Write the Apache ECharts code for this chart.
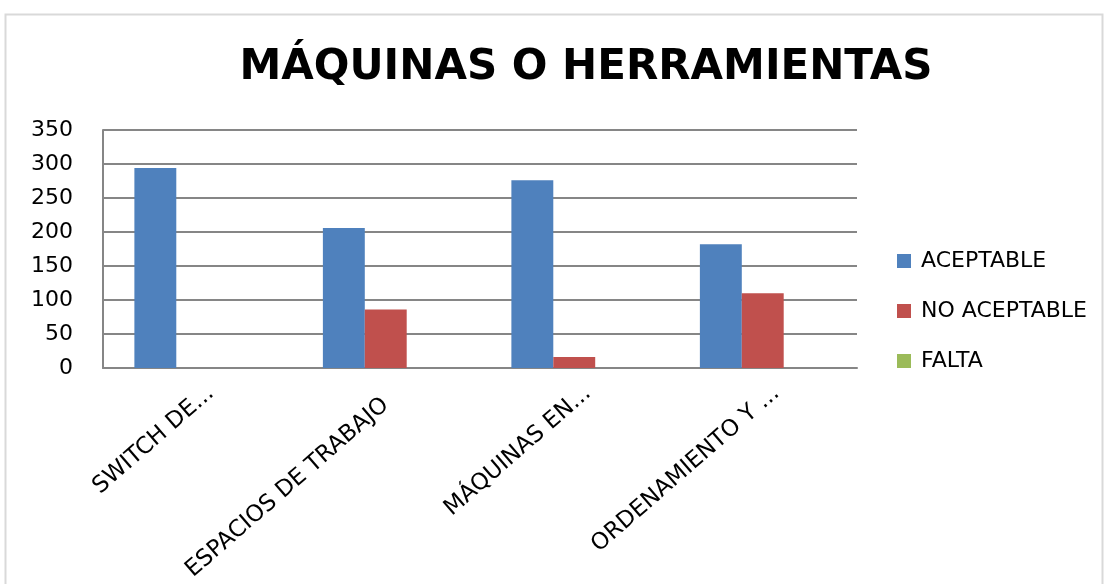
<!DOCTYPE html>
<html>
<head>
<meta charset="utf-8">
<script src="https://cdn.jsdelivr.net/npm/echarts@6/dist/echarts.min.js"></script>
<style>
html, body { margin: 0; padding: 0; background: #fff; }
#myChart { width: 1107px; height: 584px; }
</style>
</head>
<body>
<div id="myChart"></div>
<script>
// datos
var categories = ["SWITCH DE...", "ESPACIOS DE TRABAJO", "MÁQUINAS EN...", "ORDENAMIENTO Y ..."];
var aceptable = [294, 206, 276, 182];
var noAceptable = [0, 86, 16, 110];
var falta = [0, 0, 0, 0];
var seriesNames = ["ACEPTABLE", "NO ACEPTABLE", "FALTA"];
var colors = ["#4F81BD", "#C0504D", "#9BBB59"];

var myChart = echarts.init(document.getElementById("myChart"));
var font = "'DejaVu Sans', 'Open Sans', sans-serif";

// las etiquetas recortadas ("...") quedan algo desplazadas hacia la derecha en el original
var xData = categories.map(function (c) {
  if (c.indexOf("...") >= 0) {
    return { value: c, textStyle: { padding: [0, -18, 0, 0] } };
  }
  return c;
});

var option = {
  color: colors,
  animation: false,
  title: {
    text: "MÁQUINAS O HERRAMIENTAS",
    left: 581,
    top: 42,
    textAlign: "center",
    textStyle: { fontFamily: font, fontWeight: "bold", fontSize: 42, color: "#000" }
  },
  graphic: [
    {
      type: "rect",
      shape: { x: 5.5, y: 14.5, width: 1097, height: 580 },
      style: { fill: "none", stroke: "#d9d9d9", lineWidth: 2 }
    }
  ],
  legend: {
    orient: "vertical",
    left: 892,
    top: 244,
    itemWidth: 14,
    itemHeight: 14,
    itemGap: 26,
    icon: "rect",
    textStyle: { fontFamily: font, fontSize: 22, lineHeight: 24, color: "#000", padding: [0, 0, 0, 5] },
    data: seriesNames
  },
  grid: {
    left: 103,
    right: 250,
    top: 130,
    bottom: 216,
    containLabel: false
  },
  xAxis: {
    type: "category",
    data: xData,
    axisLine: { lineStyle: { color: "#868686", width: 2 } },
    axisTick: { show: false },
    axisLabel: {
      rotate: 41,
      interval: 0,
      margin: 34,
      fontFamily: font,
      fontSize: 23,
      color: "#000"
    }
  },
  yAxis: {
    type: "value",
    min: 0,
    max: 350,
    interval: 50,
    axisLine: { show: true, lineStyle: { color: "#868686", width: 2 } },
    axisTick: { show: false },
    splitLine: { lineStyle: { color: "#868686", width: 2 } },
    axisLabel: {
      margin: 30,
      fontFamily: font,
      fontSize: 22,
      color: "#000"
    }
  },
  series: [
    { name: seriesNames[0], type: "bar", data: aceptable, barGap: "0%", barCategoryGap: "33.3%" },
    { name: seriesNames[1], type: "bar", data: noAceptable, barGap: "0%", barCategoryGap: "33.3%" },
    { name: seriesNames[2], type: "bar", data: falta, barGap: "0%", barCategoryGap: "33.3%" }
  ]
};
myChart.setOption(option);
</script>
</body>
</html>
